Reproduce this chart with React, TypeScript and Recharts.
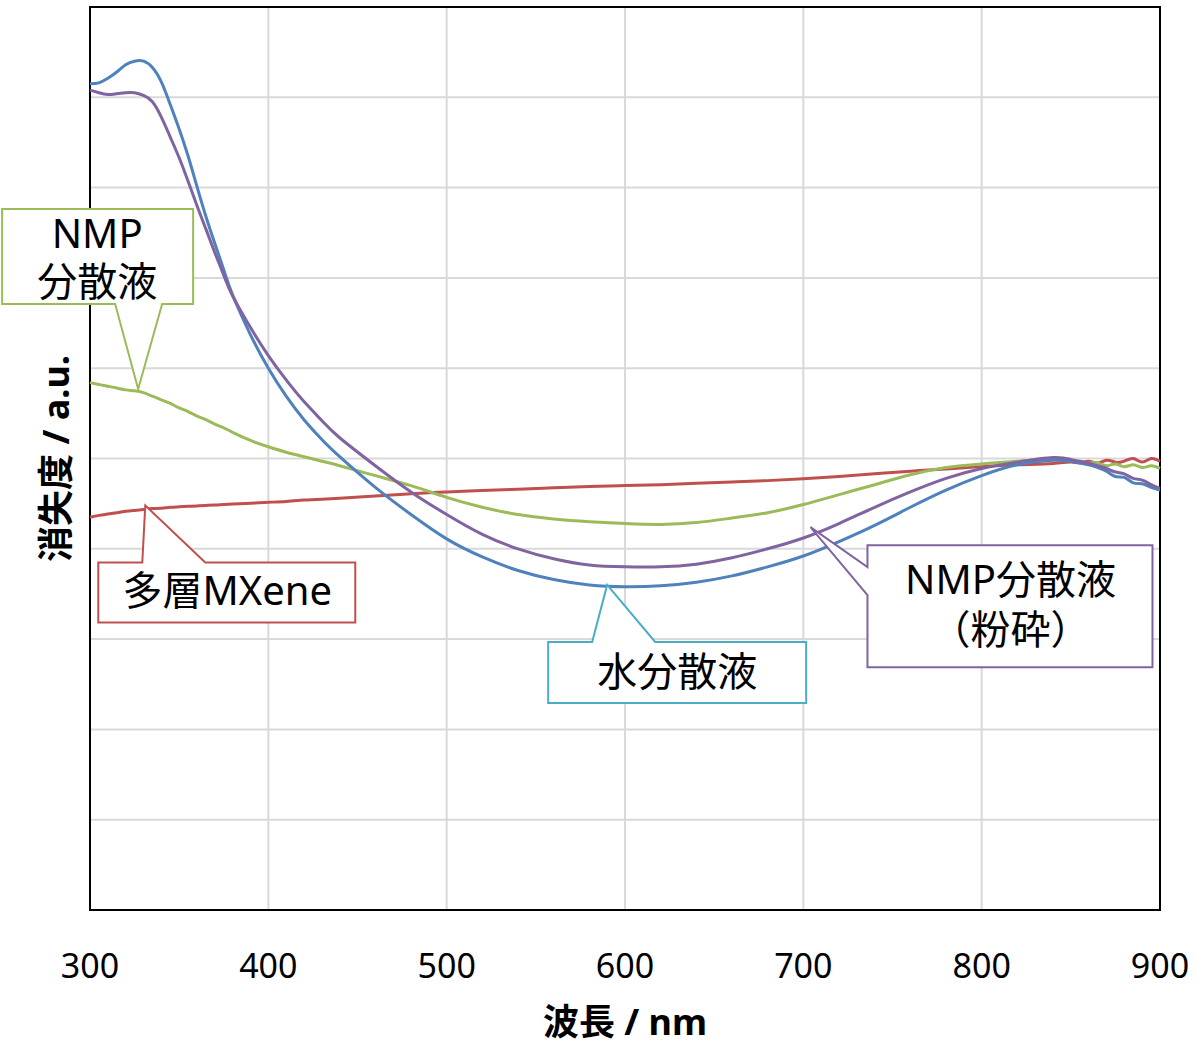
import React from "react";
import {
  LineChart,
  Line,
  XAxis,
  YAxis,
  CartesianGrid,
  ReferenceArea,
  ReferenceDot,
  Label,
} from "recharts";

// wavelength (nm) and extinction (a.u.)
const wavelengths = [
  300, 305, 310, 315, 320, 325, 330, 335, 340, 345, 350, 355, 360, 365, 370, 375, 380,
  390, 400, 410, 420, 430, 440,
  460, 480, 500, 520, 540, 560, 580, 600, 620, 640, 660, 680, 700, 720, 740, 760, 780, 800, 820, 840,
  850, 855, 860, 865, 870, 875, 880, 885, 890, 895, 900,
];

const waterDispersion = [
  9.15, 9.16, 9.21, 9.28, 9.36, 9.4, 9.4, 9.33, 9.17, 8.92, 8.65, 8.35, 8.01, 7.68, 7.38, 7.09, 6.81,
  6.37, 6.0, 5.69, 5.43, 5.21, 5.02,
  4.68, 4.38, 4.11, 3.91, 3.76, 3.66, 3.6, 3.58, 3.59, 3.63, 3.7, 3.8, 3.92, 4.08, 4.26, 4.46, 4.65, 4.81, 4.93, 4.98,
  4.97, 4.95, 4.93, 4.9, 4.86, 4.8, 4.79, 4.73, 4.72, 4.68, 4.65,
];

const nmpMilled = [
  9.08, 9.05, 9.03, 9.04, 9.05, 9.05, 9.02, 8.95, 8.78, 8.56, 8.33, 8.07, 7.8, 7.54, 7.28, 7.03, 6.8,
  6.45, 6.14, 5.87, 5.63, 5.42, 5.23,
  4.92, 4.63, 4.38, 4.16, 4.0, 3.89, 3.82, 3.8, 3.8, 3.83, 3.9, 4.0, 4.12, 4.28, 4.46, 4.63, 4.78, 4.89, 4.96, 5.01,
  4.99, 4.97, 4.95, 4.92, 4.89, 4.85, 4.83, 4.78, 4.76, 4.71, 4.67,
];

const nmpDispersion = [
  5.84, 5.82, 5.8, 5.78, 5.76, 5.75, 5.73, 5.69, 5.65, 5.61, 5.56, 5.52, 5.47, 5.43, 5.38, 5.34, 5.29,
  5.2, 5.13, 5.07, 5.02, 4.97, 4.92,
  4.81, 4.7, 4.57, 4.46, 4.38, 4.33, 4.3, 4.28, 4.27, 4.29, 4.34, 4.4, 4.49, 4.6, 4.71, 4.82, 4.9, 4.94, 4.97, 4.99,
  4.98, 4.96, 4.95, 4.95, 4.92, 4.94, 4.91, 4.93, 4.9, 4.92, 4.89,
];

const multilayer = [
  4.35, 4.37, 4.385, 4.4, 4.415, 4.425, 4.435, 4.445, 4.45, 4.46, 4.465, 4.47, 4.475, 4.48, 4.485, 4.49, 4.495,
  4.505, 4.515, 4.525, 4.54, 4.55, 4.56,
  4.585, 4.61, 4.63, 4.645, 4.66, 4.675, 4.69, 4.7, 4.71, 4.725, 4.74, 4.755, 4.775, 4.8, 4.83, 4.86, 4.885, 4.91, 4.93, 4.945,
  4.96, 4.95, 4.97, 4.95, 4.98, 4.96, 4.97, 5.0, 4.96, 5.0, 4.97,
];

const xTicks = [300, 400, 500, 600, 700, 800, 900];
const yTicks = [0, 1, 2, 3, 4, 5, 6, 7, 8, 9, 10];

const data = wavelengths.map((w, i) => ({
  w,
  water: waterDispersion[i],
  milled: nmpMilled[i],
  nmp: nmpDispersion[i],
  multi: multilayer[i],
}));

const FONT = "'Noto Sans', 'Noto Sans CJK JP', sans-serif";
const BLUE = "#4F81BD";
const RED = "#C0504D";
const GREEN = "#9BBB59";
const PURPLE = "#8064A2";
const CYAN = "#4BACC6";

type TextLine = { text: string; dx: number; dy: number };

// callout box drawn relative to the anchor point (the tip of the pointer)
function callout(path: string, color: string, lines: TextLine[]) {
  return (props: any) => {
    const { cx, cy } = props;
    if (cx == null || cy == null) return <g />;
    return (
      <g transform={`translate(${cx},${cy})`}>
        <path d={path} fill="#fff" stroke={color} strokeWidth={2} />
        {lines.map((l, i) => (
          <text key={i} x={l.dx} y={l.dy} textAnchor="middle" fontSize={40} fontFamily={FONT} fill="#000">
            {l.text}
          </text>
        ))}
      </g>
    );
  };
}

const greenCallout = callout("M-136,-180 H55 V-85 H24 L0,0 L-23,-85 H-136 Z", GREEN, [
  { text: "NMP", dx: -41, dy: -141 },
  { text: "分散液", dx: -41, dy: -93 },
]);
const redCallout = callout("M-47,57 H-3 L0,0 L60,57 H210 V117 H-47 Z", RED, [
  { text: "多層MXene", dx: 82, dy: 100 },
]);
const cyanCallout = callout("M-59,57 H-15 L0,0 L48,57 H199 V118 H-59 Z", CYAN, [
  { text: "水分散液", dx: 70, dy: 101 },
]);
const purpleCallout = callout("M57,18 H342 V140 H57 V68 L0,0 L57,40 Z", PURPLE, [
  { text: "NMP分散液", dx: 200, dy: 67 },
  { text: "（粉砕）", dx: 200, dy: 117 },
]);

export default function App() {
  return (
    <div style={{ position: "absolute", left: 0, top: 0, width: 1196, height: 1046, background: "#fff" }}>
      <LineChart width={1196} height={1046} data={data} margin={{ top: 7, right: 36, bottom: 0, left: 0 }}>
        <CartesianGrid stroke="#d9d9d9" strokeWidth={2} />
        <XAxis
          dataKey="w"
          type="number"
          domain={[300, 900]}
          ticks={xTicks}
          height={136}
          axisLine={false}
          tickLine={false}
          interval={0}
          tick={(p: any) => (
            <text x={p.x} y={p.y + 60} textAnchor="middle" fontSize={34} fontFamily={FONT} fill="#000">
              {p.payload.value}
            </text>
          )}
        >
          <Label
            content={(p: any) => {
              const vb = p.viewBox || {};
              return (
                <text
                  x={vb.x + vb.width / 2}
                  y={vb.y + 125}
                  textAnchor="middle"
                  fontSize={36}
                  fontWeight="bold"
                  fontFamily={FONT}
                  fill="#000"
                >
                  波長 / nm
                </text>
              );
            }}
          />
        </XAxis>
        <YAxis
          type="number"
          domain={[0, 10]}
          ticks={yTicks}
          interval={0}
          width={90}
          axisLine={false}
          tickLine={false}
          tick={() => <g />}
        >
          <Label
            content={(p: any) => {
              const vb = p.viewBox || {};
              const x = vb.x + 55;
              const y = vb.y + vb.height / 2;
              return (
                <text
                  x={x}
                  y={y}
                  transform={`rotate(-90 ${x} ${y})`}
                  textAnchor="middle"
                  dominantBaseline="central"
                  fontSize={36}
                  fontWeight="bold"
                  fontFamily={FONT}
                  fill="#000"
                >
                  消失度 / a.u.
                </text>
              );
            }}
          />
        </YAxis>
        <ReferenceArea x1={300} x2={900} y1={0} y2={10} fill="none" stroke="#000" strokeWidth={2} />
        <Line dataKey="multi" type="natural" stroke={RED} strokeWidth={3} dot={false} isAnimationActive={false} />
        <Line dataKey="nmp" type="natural" stroke={GREEN} strokeWidth={3} dot={false} isAnimationActive={false} />
        <Line dataKey="water" type="natural" stroke={BLUE} strokeWidth={3} dot={false} isAnimationActive={false} />
        <Line dataKey="milled" type="natural" stroke={PURPLE} strokeWidth={3} dot={false} isAnimationActive={false} />
        <ReferenceDot x={327} y={5.77} shape={greenCallout} />
        <ReferenceDot x={331} y={4.48} shape={redCallout} />
        <ReferenceDot x={590} y={3.6} shape={cyanCallout} />
        <ReferenceDot x={704} y={4.24} shape={purpleCallout} />
      </LineChart>
    </div>
  );
}
